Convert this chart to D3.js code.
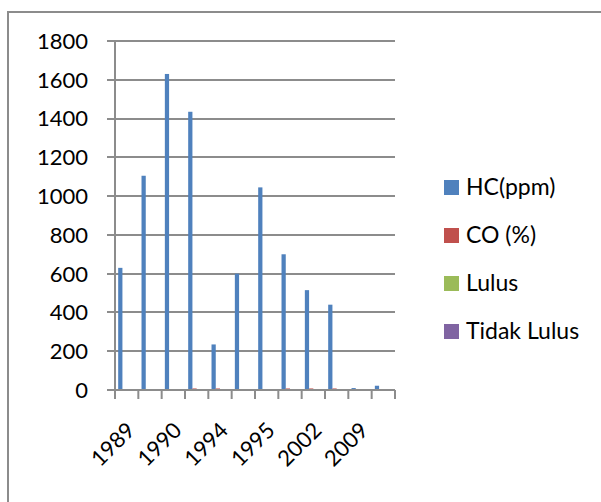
<!DOCTYPE html>
<html>
<head>
<meta charset="utf-8">
<script src="https://cdn.jsdelivr.net/npm/d3@7"></script>
<style>
  body { margin: 0; background: #fff; }
  svg text { font-family: Lato, "Open Sans", sans-serif; fill: #000; }
</style>
</head>
<body>
<svg id="chart" width="601" height="502"></svg>
<script>
// DATA
var categories = ["1989", "", "1990", "", "1994", "", "1995", "", "2002", "", "2009", ""];
var seriesNames = ["HC(ppm)", "CO (%)", "Lulus", "Tidak Lulus"];
var hcValues = [630, 1105, 1630, 1435, 235, 600, 1045, 700, 515, 440, 10, 22];
var coValues = [0.5, 1, 0.5, 8, 8, 1, 1, 8, 8, 8, 0.5, 0.5];
var lulusValues = [1, 1, 1, 0, 0, 1, 1, 0, 0, 0, 1, 1];
var tidakValues = [0, 0, 0, 1, 1, 0, 0, 1, 1, 1, 0, 0];
var yTicks = [0, 200, 400, 600, 800, 1000, 1200, 1400, 1600, 1800];
var colors = ["#4f81bd", "#c0504d", "#9bbb59", "#8064a2"];

var allSeries = [hcValues, coValues, lulusValues, tidakValues];

var svg = d3.select("#chart");

// outer chart border (runs off the right and bottom)
svg.append("path")
    .attr("d", "M8,620 V12 H700")
    .attr("fill", "none")
    .attr("stroke", "#8c8c8c")
    .attr("stroke-width", 2);

var plotLeft = 115, plotRight = 395, plotTop = 41, plotBottom = 390;

var x = d3.scaleBand()
    .domain(d3.range(categories.length))
    .range([plotLeft, plotRight])
    .paddingInner(0)
    .paddingOuter(0);

var y = d3.scaleLinear()
    .domain([0, 1800])
    .range([plotBottom, plotTop]);

// gridlines with left tick
svg.append("g")
  .selectAll("line")
  .data(yTicks)
  .enter().append("line")
    .attr("x1", plotLeft - 8)
    .attr("x2", plotRight)
    .attr("y1", function(d) { return Math.round(y(d)); })
    .attr("y2", function(d) { return Math.round(y(d)); })
    .attr("stroke", "#8c8c8c")
    .attr("stroke-width", 2);

// y labels
svg.append("g")
  .selectAll("text")
  .data(yTicks)
  .enter().append("text")
    .attr("x", 88)
    .attr("y", function(d) { return y(d); })
    .attr("dy", "0.36em")
    .attr("text-anchor", "end")
    .style("font-size", "22px")
    .text(function(d) { return d; });

// bars
var w = x.bandwidth() / 5.5;
allSeries.forEach(function(vals, s) {
    svg.append("g")
      .selectAll("rect")
      .data(vals)
      .enter().append("rect")
        .attr("x", function(d, i) { return x(i) + 0.75 * w + s * w; })
        .attr("width", w)
        .attr("y", function(d) { return y(d); })
        .attr("height", function(d) { return plotBottom - y(d); })
        .attr("fill", colors[s]);
});

// y axis line
svg.append("line")
    .attr("x1", plotLeft).attr("x2", plotLeft)
    .attr("y1", plotTop).attr("y2", plotBottom + 9)
    .attr("stroke", "#8c8c8c")
    .attr("stroke-width", 2);

// x axis line and ticks
svg.append("line")
    .attr("x1", plotLeft).attr("x2", plotRight)
    .attr("y1", plotBottom).attr("y2", plotBottom)
    .attr("stroke", "#8c8c8c")
    .attr("stroke-width", 2);

svg.append("g")
  .selectAll("line")
  .data(d3.range(categories.length + 1))
  .enter().append("line")
    .attr("x1", function(i) { return plotLeft + i * x.step(); })
    .attr("x2", function(i) { return plotLeft + i * x.step(); })
    .attr("y1", plotBottom)
    .attr("y2", plotBottom + 9)
    .attr("stroke", "#8c8c8c")
    .attr("stroke-width", 2);

// x labels, rotated
svg.append("g")
  .selectAll("text")
  .data(categories)
  .enter().append("text")
    .attr("transform", function(d, i) {
        return "translate(" + (x(i) + x.bandwidth() / 2 + 4) + "," + (plotBottom + 36) + ") rotate(-45)";
    })
    .attr("text-anchor", "end")
    .attr("dy", "0.36em")
    .style("font-size", "22px")
    .text(function(d) { return d; });

// legend
var legend = svg.append("g")
  .selectAll("g")
  .data(seriesNames)
  .enter().append("g")
    .attr("transform", function(d, i) { return "translate(444," + (187 + i * 48) + ")"; });

legend.append("rect")
    .attr("x", 0)
    .attr("y", -7)
    .attr("width", 15)
    .attr("height", 15)
    .attr("fill", function(d, i) { return colors[i]; });

legend.append("text")
    .attr("x", 22)
    .attr("dy", "0.36em")
    .style("font-size", "23px")
    .text(function(d) { return d; });
</script>
</body>
</html>
